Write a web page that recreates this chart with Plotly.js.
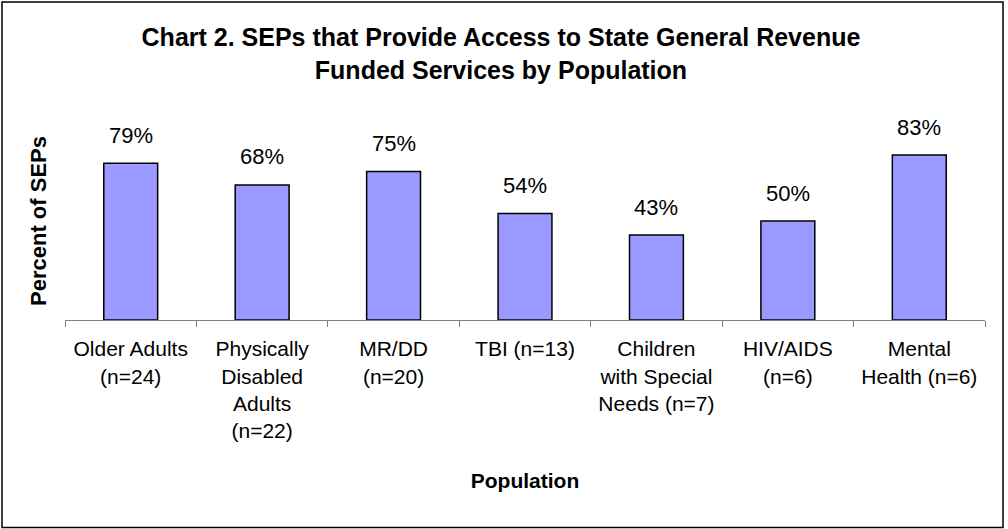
<!DOCTYPE html>
<html>
<head>
<meta charset="utf-8">
<script src="https://cdn.plot.ly/plotly-3.0.1.min.js"></script>
<style>
  html, body { margin: 0; padding: 0; background: #fff; }
  #chart { width: 1008px; height: 529px; }
</style>
</head>
<body>
<div id="chart"></div>
<script>
// ---- Data ----
const categories = [
  "Older Adults<br>(n=24)",
  "Physically<br>Disabled<br>Adults<br>(n=22)",
  "MR/DD<br>(n=20)",
  "TBI (n=13)",
  "Children<br>with Special<br>Needs (n=7)",
  "HIV/AIDS<br>(n=6)",
  "Mental<br>Health (n=6)"
];
const percentValues = [79.2, 68.2, 75.0, 53.8, 42.9, 50.0, 83.3];
const valueLabels = ["79%", "68%", "75%", "54%", "43%", "50%", "83%"];

const chartTitle = "Chart 2. SEPs that Provide Access to State General Revenue<br>Funded Services by Population";
const xTitle = "Population";
const yTitle = "Percent of SEPs";

// ---- Layout geometry ----
const W = 1008, H = 529;
const M = { l: 65, r: 23, t: 122, b: 209 };
const plotW = W - M.l - M.r, plotH = H - M.t - M.b;
const px2paperX = p => (p - M.l) / plotW;
const px2paperY = p => (H - M.b - p) / plotH;

const FONT = "Liberation Sans, Arial, sans-serif";

const trace = {
  type: "bar",
  x: categories,
  y: percentValues,
  marker: { color: "#9999FF", line: { color: "#000000", width: 1.5 } },
  hoverinfo: "skip"
};

const labelAnnotations = categories.map((c, i) => ({
  x: c, y: percentValues[i], xref: "x", yref: "y",
  text: valueLabels[i], showarrow: false,
  yanchor: "middle", yshift: 28,
  font: { family: FONT, size: 22, color: "#000" }
}));

const layout = {
  width: W, height: H,
  margin: M,
  paper_bgcolor: "#fff", plot_bgcolor: "#fff",
  showlegend: false,
  bargap: 0.59,
  font: { family: FONT, color: "#000" },
  title: {
    text: chartTitle,
    font: { family: FONT, size: 25, color: "#000", weight: "bold" },
    x: 0.497, xref: "container", xanchor: "center",
    y: 1 - 46 / H, yref: "container", yanchor: "top"
  },
  xaxis: {
    type: "category",
    showline: true, linecolor: "#808080", linewidth: 1,
    ticks: "outside", tickson: "boundaries", ticklen: 6, tickcolor: "#808080", tickwidth: 1,
    ticklabelstandoff: 10,
    tickfont: { family: FONT, size: 21, color: "#000" },
    showgrid: false, zeroline: false, fixedrange: true,
    title: { text: xTitle, standoff: 32, font: { family: FONT, size: 21, color: "#000", weight: "bold" } }
  },
  yaxis: {
    range: [0, 100],
    showline: false, showticklabels: false, ticks: "",
    showgrid: false, zeroline: false, fixedrange: true,
    title: { text: yTitle, standoff: 11, font: { family: FONT, size: 22, color: "#000", weight: "bold" } }
  },
  annotations: labelAnnotations,
  shapes: [{
    type: "rect", xref: "paper", yref: "paper",
    x0: px2paperX(2), x1: px2paperX(1003),
    y0: px2paperY(527.5), y1: px2paperY(2),
    line: { color: "#000", width: 1.5 }, fillcolor: "rgba(0,0,0,0)", layer: "above"
  }]
};

Plotly.newPlot("chart", [trace], layout, { displayModeBar: false, staticPlot: true });
</script>
</body>
</html>
